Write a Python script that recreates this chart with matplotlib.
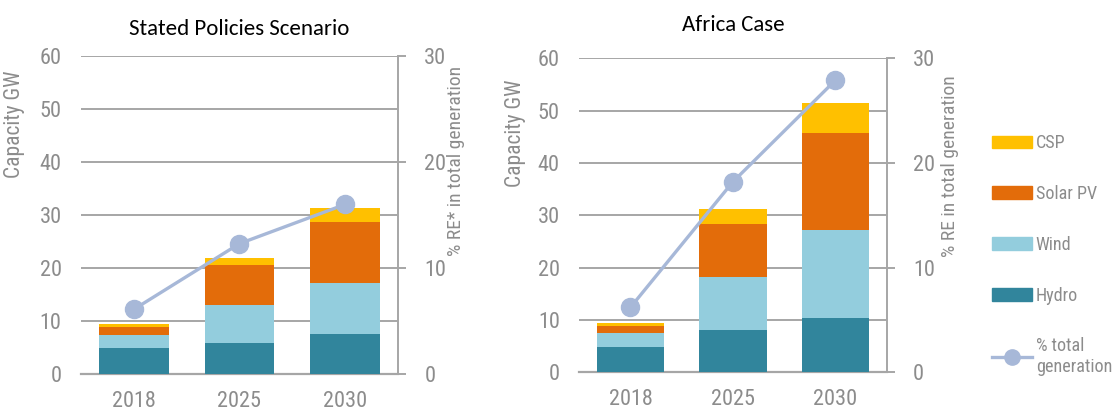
import numpy as np
import matplotlib.pyplot as plt
from matplotlib.patches import Patch
from matplotlib.lines import Line2D

years = ['2018', '2025', '2030']

# Stated Policies Scenario (GW)
sps_hydro = [4.9, 5.9, 7.5]
sps_wind = [2.5, 7.2, 9.7]
sps_solar = [1.4, 7.5, 11.5]
sps_csp = [0.6, 1.3, 2.6]
sps_share = [6.1, 12.3, 16.0]

# Africa Case (GW)
ac_hydro = [4.9, 8.0, 10.3]
ac_wind = [2.7, 10.3, 16.8]
ac_solar = [1.3, 10.1, 18.7]
ac_csp = [0.6, 2.8, 5.7]
ac_share = [6.2, 18.2, 27.9]

c_hydro = '#31859C'
c_wind = '#93CDDD'
c_solar = '#E36C0A'
c_csp = '#FFC000'
c_line = '#A7B8D8'
gray = '#8C8C8C'
grid = '#A6A6A6'

narrow = ['Liberation Sans Narrow', 'Roboto Condensed', 'Archivo Narrow', 'Liberation Sans', 'DejaVu Sans']
title_font = ['Carlito', 'Open Sans', 'DejaVu Sans']


def panel(ax, title, hydro, wind, solar, csp, share, rlabel, lab_xy, rlab_xy, title_y):
    x = np.arange(len(years))
    w = 0.66
    b = np.zeros(len(years))
    for vals, col in [(hydro, c_hydro), (wind, c_wind), (solar, c_solar), (csp, c_csp)]:
        ax.bar(x, vals, w, bottom=b, color=col, zorder=3)
        b = b + np.array(vals)
    ax.set_xlim(-0.5, 2.5)
    ax.set_ylim(0, 60)
    ax.set_yticks(range(0, 61, 10))
    ax.set_xticks(x)
    ax.set_xticklabels(years, fontsize=16, color=gray, family=narrow)
    ax.tick_params(axis='x', length=0, pad=12)
    ax.tick_params(axis='y', length=0, pad=14, labelsize=16, labelcolor=gray)
    for t in ax.get_yticklabels():
        t.set_family(narrow)
    ax.grid(axis='y', color=grid, lw=1.4, zorder=0)
    for s in ['left', 'top', 'right']:
        ax.spines[s].set_visible(False)
    ax.spines['bottom'].set_color(grid)
    ax.spines['bottom'].set_linewidth(1.6)
    ax.set_ylabel('Capacity GW', fontsize=15.5, color=gray, family=narrow)
    ax.yaxis.set_label_coords(*lab_xy)
    ax.set_title(title, fontsize=16.5, family=title_font, y=title_y)

    ax2 = ax.twinx()
    ax2.plot(x, share, color=c_line, lw=2.4, marker='o', ms=13, zorder=5)
    ax2.set_ylim(0, 30)
    ax2.set_yticks(range(0, 31, 10))
    ax2.tick_params(axis='y', length=6, width=1.4, color=grid, pad=13,
                    labelsize=16, labelcolor=gray)
    for t in ax2.get_yticklabels():
        t.set_family(narrow)
    for s in ['left', 'top', 'bottom']:
        ax2.spines[s].set_visible(False)
    ax2.spines['right'].set_color(grid)
    ax2.spines['right'].set_linewidth(1.4)
    ax2.set_ylabel(rlabel, fontsize=14, color=gray, family=narrow, rotation=90)
    ax2.yaxis.set_label_coords(*rlab_xy)


fig = plt.figure(figsize=(11.16, 4.07), dpi=100)
ax1 = fig.add_axes([0.0726, 0.0811, 0.284, 0.7813])
ax3 = fig.add_axes([0.519, 0.0853, 0.2755, 0.7715])

panel(ax1, 'Stated Policies Scenario', sps_hydro, sps_wind, sps_solar, sps_csp,
      sps_share, '% RE* in total generation', (-0.176, 0.786), (1.155, 0.67), 1.04)
panel(ax3, 'Africa Case', ac_hydro, ac_wind, ac_solar, ac_csp,
      ac_share, '% RE in total generation', (-0.173, 0.762), (1.178, 0.657), 1.06)

handles = [Patch(color=c_csp), Patch(color=c_solar), Patch(color=c_wind), Patch(color=c_hydro),
           Line2D([], [], color=c_line, lw=2.4, marker='o', ms=11)]
labels = ['CSP', 'Solar PV', 'Wind', 'Hydro', '% total\ngeneration']
leg = fig.legend(handles, labels, loc='upper left', bbox_to_anchor=(0.874, 0.71),
                 frameon=False, handlelength=2.2, handleheight=0.7, handletextpad=0.22,
                 labelspacing=1.8, prop={'family': narrow, 'size': 13.1})
for t in leg.get_texts():
    t.set_color(gray)

fig.savefig('out.png', dpi=100)
